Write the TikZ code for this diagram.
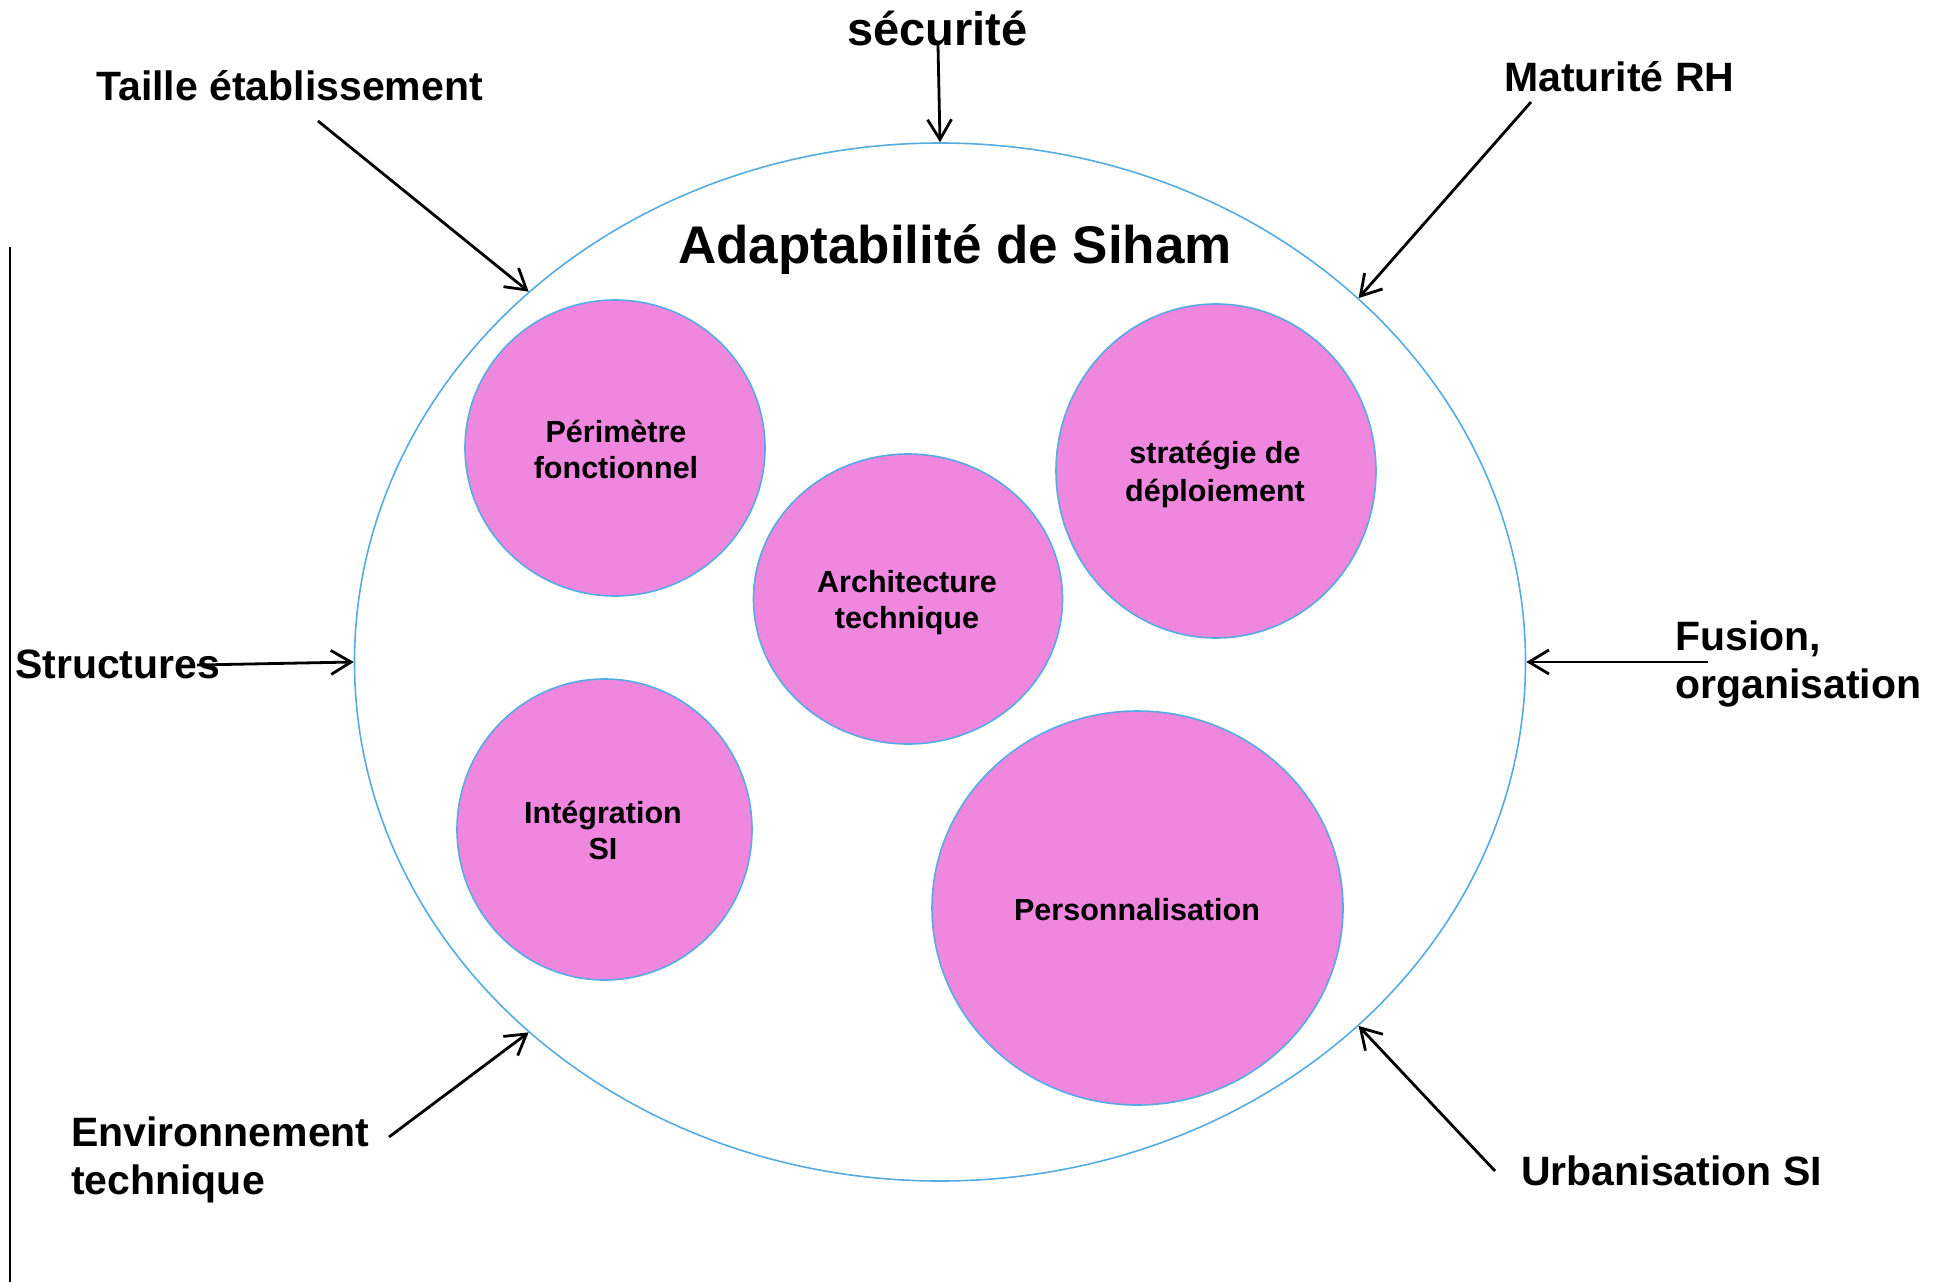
\documentclass[tikz,border=0pt]{standalone}
\usepackage{fontspec}
\setmainfont{Liberation Sans}
\usetikzlibrary{shapes.geometric,arrows.meta}
\definecolor{rimblue}{RGB}{86,172,226}
\definecolor{bubblepink}{RGB}{239,135,223}
\tikzset{
  outer/.style={ellipse,draw=rimblue,line width=1.6pt,inner sep=0pt,fill=white},
  bubble/.style={ellipse,draw=rimblue,line width=1.6pt,fill=bubblepink,inner sep=0pt},
  lbl/.style={inner sep=0pt,font=\fontsize{41}{48}\selectfont\bfseries},
  blbl/.style={inner sep=0pt,anchor=base,font=\fontsize{30.5}{36}\selectfont\bfseries},
  pointer/.style={line width=2.8pt,-{Straight Barb[length=20pt,width=24pt,line width=2.8pt]}}
}
\begin{document}
\begin{tikzpicture}[x=1pt,y=-1pt]
\useasboundingbox (0,0) rectangle (1944,1282);
% outer ellipse
\node[outer,minimum width=1171pt,minimum height=1038pt] (ell) at (940,662) {};
% bubbles
\node[bubble,minimum width=300pt,minimum height=296pt] (peri) at (615,448) {};
\node[bubble,minimum width=309pt,minimum height=290pt] (arch) at (908,599) {};
\node[bubble,minimum width=320pt,minimum height=334pt] (strat) at (1216,471) {};
\node[bubble,minimum width=295pt,minimum height=301pt] (integ) at (604.5,829.5) {};
\node[bubble,minimum width=411pt,minimum height=394pt] (perso) at (1137.5,908) {};
% bubble texts
\node[blbl] (periA) at (616,442) {Périmètre};
\node[blbl] (periB) at (616,478) {fonctionnel};
\node[blbl] (archA) at (907,592) {Architecture};
\node[blbl] (archB) at (907,628) {technique};
\node[blbl] (stratA) at (1215,463) {stratégie de};
\node[blbl] (stratB) at (1215,501) {déploiement};
\node[blbl] (integA) at (603,823) {Intégration};
\node[blbl] (integB) at (603,859) {SI};
\node[blbl] (persoA) at (1137,920) {Personnalisation};
% title
\node[inner sep=0pt,anchor=base,font=\fontsize{53}{60}\selectfont\bfseries] (title) at (955,263) {Adaptabilité de Siham};
% outside labels
\node[inner sep=0pt,anchor=base west,font=\fontsize{47}{54}\selectfont\bfseries] (secu) at (847,45) {sécurité};
\node[lbl,anchor=base west] (taille) at (96,100) {Taille établissement};
\node[lbl,anchor=base west] (matu) at (1504,91) {Maturité RH};
\node[lbl,anchor=base west] (struct) at (15,678) {Structures};
\node[lbl,anchor=base west] (fusA) at (1675,650) {Fusion,};
\node[lbl,anchor=base west] (fusB) at (1675,698) {organisation};
\node[lbl,anchor=base west] (envA) at (71,1146) {Environnement};
\node[lbl,anchor=base west] (envB) at (71,1194) {technique};
\node[lbl,anchor=base west] (urba) at (1521,1185) {Urbanisation SI};
% arrow tails
\coordinate (tSecu) at (938,45);
\coordinate (tTaille) at (318,121);
\coordinate (tMatu) at (1531,102);
\coordinate (tStruct) at (197,665);
\coordinate (tFus) at (1708,662);
\coordinate (tEnv) at (389,1137);
\coordinate (tUrba) at (1495,1171);
% arrows
\draw[pointer] (tSecu) -- (ell.north);
\draw[pointer] (tTaille) -- (ell.138.4);
\draw[pointer] (tMatu) -- (ell.41.6);
\draw[pointer] (tStruct) -- (ell.west);
\draw[pointer] (tFus) -- (ell.east);
\draw[pointer] (tEnv) -- (ell.-138.4);
\draw[pointer] (tUrba) -- (ell.-41.6);
% left rule
\coordinate (ruleTop) at (10,247);
\coordinate (ruleBot) at (10,1282);
\draw[line width=2.4pt] (ruleTop) -- (ruleBot);
\end{tikzpicture}
\end{document}
